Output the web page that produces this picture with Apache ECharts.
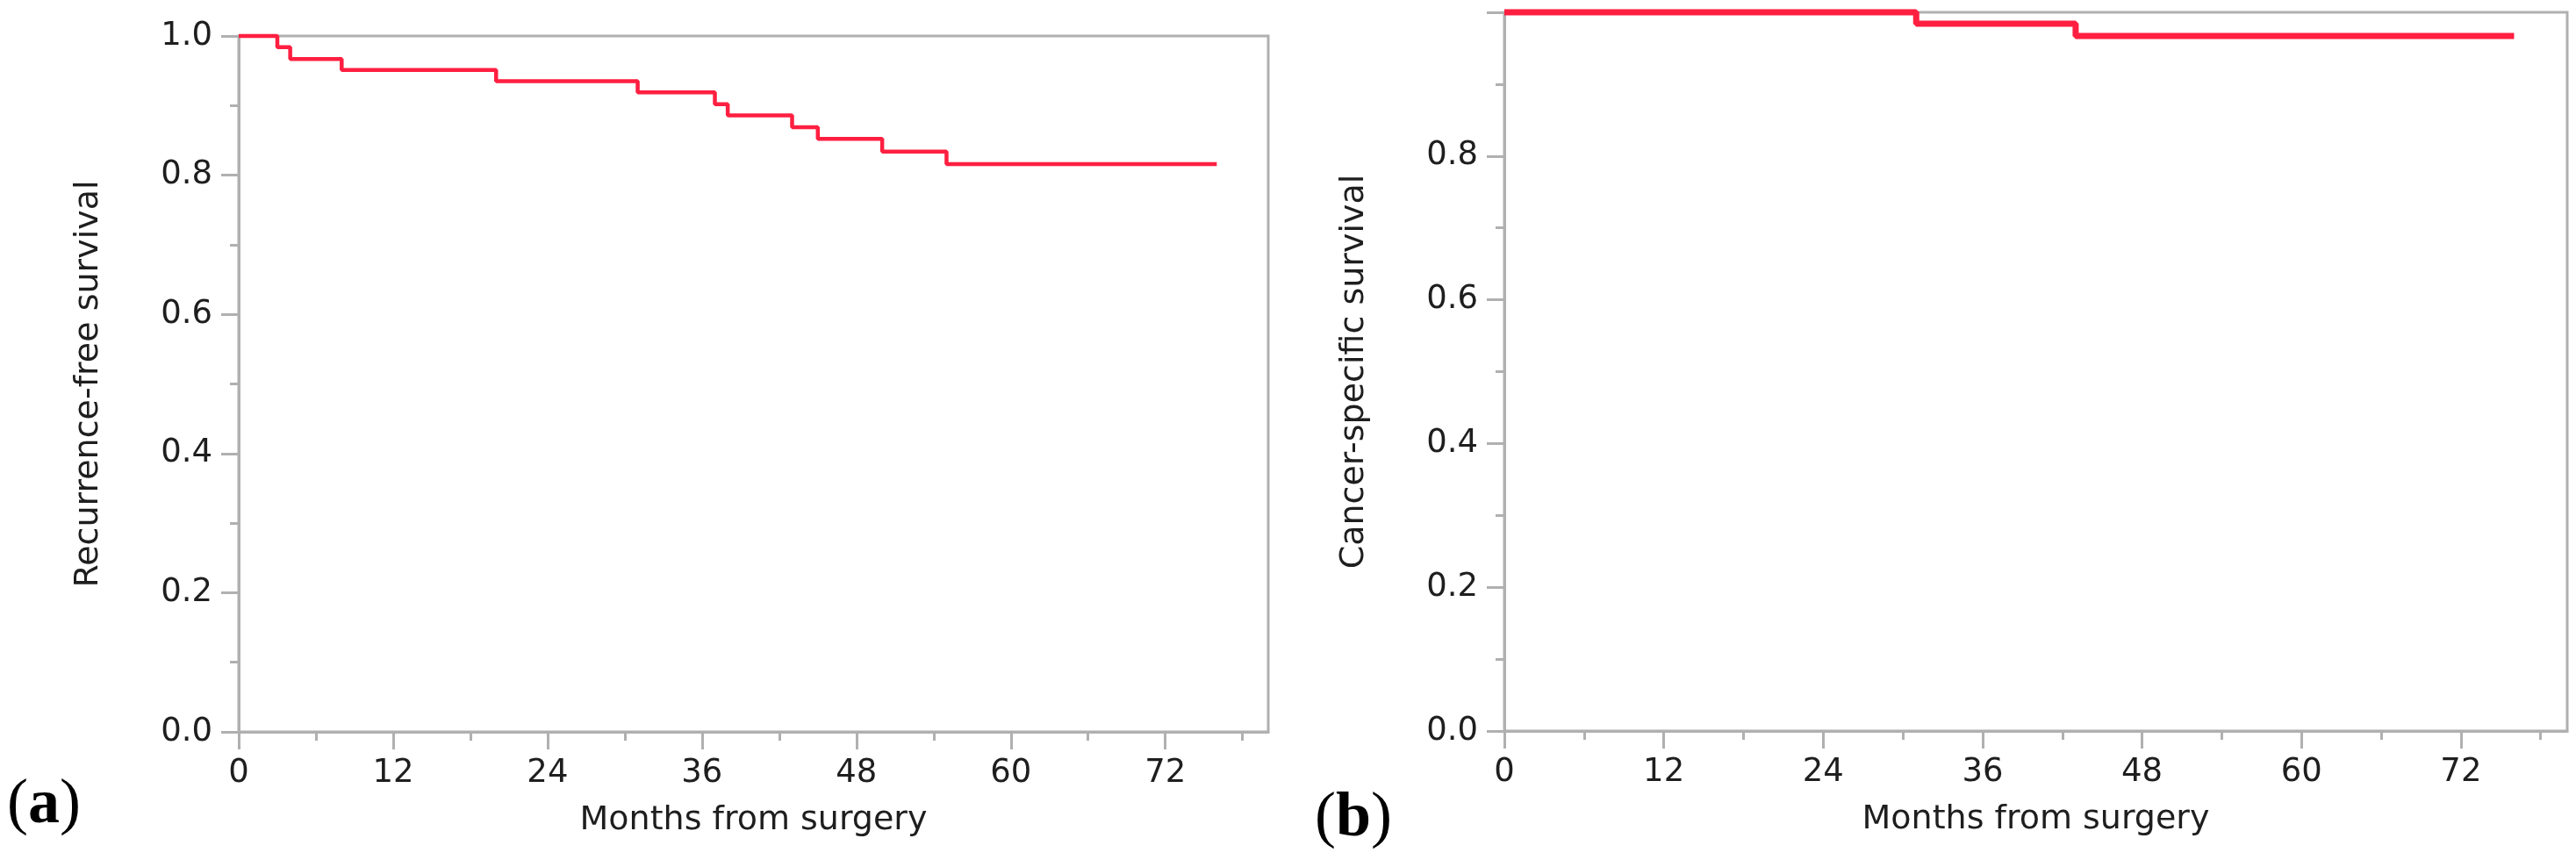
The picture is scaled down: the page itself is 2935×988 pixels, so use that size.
<!DOCTYPE html>
<html>
<head>
<meta charset="utf-8">
<script src="https://cdn.jsdelivr.net/npm/echarts@6/dist/echarts.min.js"></script>
<style>
  html, body { margin: 0; padding: 0; background: #ffffff; }
  #chart { width: 2935px; height: 988px; }
</style>
</head>
<body>
<div id="chart"></div>
<script>
// ---- data ----
const rfsMonths   = [0, 3, 4, 8, 20, 31, 37, 38, 43, 45, 50, 55, 76];
const rfsSurvival = [1.0, 0.984, 0.967, 0.951, 0.935, 0.919, 0.902, 0.886, 0.869, 0.852, 0.834, 0.816, 0.816];
const cssMonths   = [0, 31, 43, 76];
const cssSurvival = [1.0, 0.984, 0.967, 0.967];
const xTickValues      = [0, 12, 24, 36, 48, 60, 72];
const xMinorTickValues = [6, 18, 30, 42, 54, 66, 78];
const xTitle = 'Months from surgery';
const yTitleA = 'Recurrence-free survival';
const yTitleB = 'Cancer-specific survival';

const pairs = (xs, ys) => xs.map((x, i) => [x, ys[i]]);

const AXIS_GRAY = '#b0b0b0';
const TEXT = '#1e1e1e';
const FONT = 'DejaVu Sans';
const RED = '#ff1f40';

function mainX(gridIndex) {
  return {
    type: 'value', gridIndex, position: 'bottom', min: 0, max: 80, interval: 12,
    name: xTitle, nameLocation: 'middle', nameGap: 82,
    nameTextStyle: { fontFamily: FONT, fontSize: 38, color: TEXT },
    axisLine: { show: true, onZero: false, lineStyle: { color: AXIS_GRAY, width: 3 } },
    axisTick: { show: true, length: 20, customValues: xTickValues, lineStyle: { color: AXIS_GRAY, width: 3 } },
    axisLabel: { show: true, customValues: xTickValues, margin: 29, fontFamily: FONT, fontSize: 37, color: TEXT },
    splitLine: { show: false }
  };
}
function minorX(gridIndex) {
  return {
    type: 'value', gridIndex, position: 'bottom', min: 0, max: 80, interval: 6,
    axisLine: { show: false },
    axisTick: { show: true, length: 10, customValues: xMinorTickValues, lineStyle: { color: AXIS_GRAY, width: 3 } },
    axisLabel: { show: false },
    splitLine: { show: false }
  };
}
function yAx(gridIndex, name, hideMax) {
  return {
    type: 'value', gridIndex, min: 0, max: 1, interval: 0.2,
    name, nameLocation: 'middle', nameGap: 152,
    nameTextStyle: { fontFamily: FONT, fontSize: 38, color: TEXT },
    axisLine: { show: true, lineStyle: { color: AXIS_GRAY, width: 3 } },
    axisTick: { show: true, length: 20, lineStyle: { color: AXIS_GRAY, width: 3 } },
    minorTick: { show: true, splitNumber: 2, length: 10, lineStyle: { color: AXIS_GRAY, width: 3 } },
    axisLabel: {
      margin: 30, fontFamily: FONT, fontSize: 37, color: TEXT,
      formatter: v => (hideMax && v >= 1) ? '' : v.toFixed(1)
    },
    splitLine: { show: false }
  };
}

const chart = echarts.init(document.getElementById('chart'));
chart.setOption({
  animation: false,
  backgroundColor: '#ffffff',
  grid: [
    { left: 272, top: 41, width: 1173, height: 793, show: true, borderColor: AXIS_GRAY, borderWidth: 3, backgroundColor: '#ffffff' },
    { left: 1714, top: 14, width: 1211, height: 819, show: true, borderColor: AXIS_GRAY, borderWidth: 3, backgroundColor: '#ffffff' }
  ],
  xAxis: [mainX(0), minorX(0), mainX(1), minorX(1)],
  yAxis: [yAx(0, yTitleA, false), yAx(1, yTitleB, true)],
  series: [
    {
      type: 'line', xAxisIndex: 0, yAxisIndex: 0, step: 'end', symbol: 'none', clip: false,
      data: pairs(rfsMonths, rfsSurvival),
      lineStyle: { color: RED, width: 4.5 }
    },
    {
      type: 'line', xAxisIndex: 2, yAxisIndex: 1, step: 'end', symbol: 'none', clip: false,
      data: pairs(cssMonths, cssSurvival),
      lineStyle: { color: RED, width: 7 }
    }
  ],
  graphic: [
    {
      type: 'text', x: 50, y: 918,
      style: {
        text: '{p|(}{b|a}{p|)}', align: 'center', verticalAlign: 'middle',
        rich: {
          p: { fontFamily: 'Liberation Serif', fontSize: 72, fill: '#000' },
          b: { fontFamily: 'Liberation Serif', fontSize: 72, fontWeight: 'bold', fill: '#000' }
        }
      }
    },
    {
      type: 'text', x: 1542, y: 933,
      style: {
        text: '{p|(}{b|b}{p|)}', align: 'center', verticalAlign: 'middle',
        rich: {
          p: { fontFamily: 'Liberation Serif', fontSize: 72, fill: '#000' },
          b: { fontFamily: 'Liberation Serif', fontSize: 72, fontWeight: 'bold', fill: '#000' }
        }
      }
    }
  ]
});
</script>
</body>
</html>
